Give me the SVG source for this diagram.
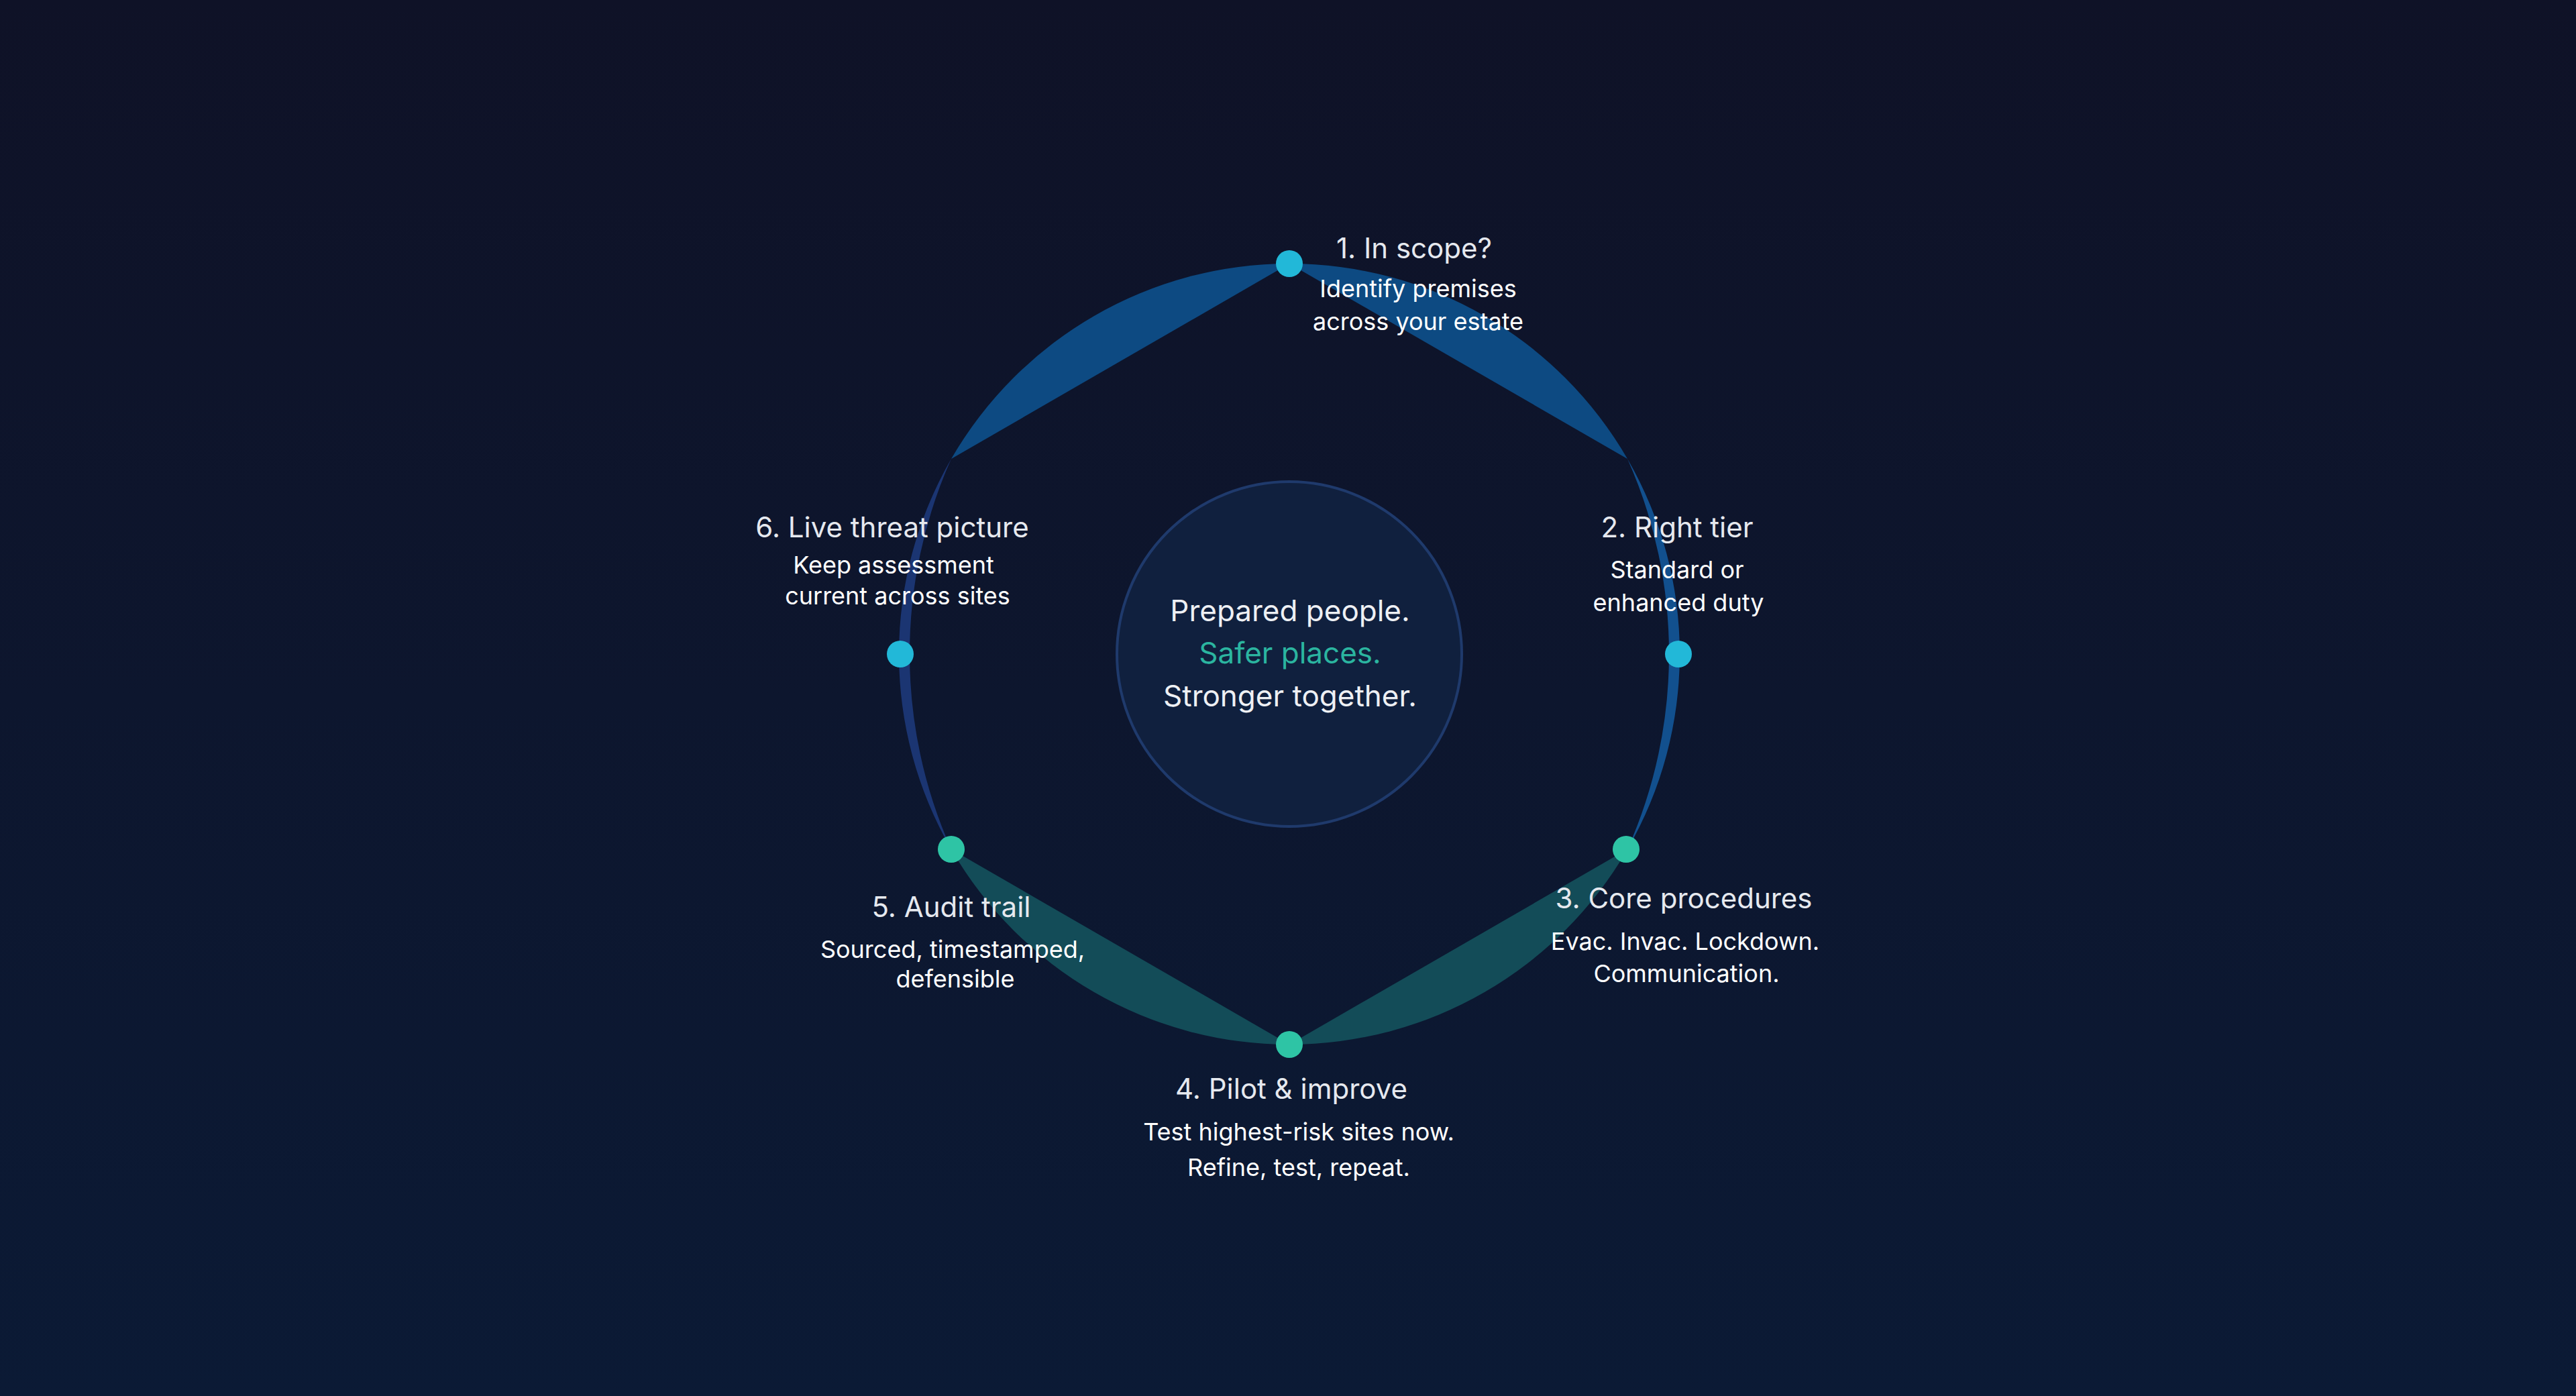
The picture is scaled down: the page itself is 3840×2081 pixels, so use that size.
<svg xmlns="http://www.w3.org/2000/svg" width="3840" height="2081" viewBox="0 0 3840 2081">
<defs>
<linearGradient id="bg" x1="0" y1="0" x2="0" y2="1"><stop offset="0" stop-color="#0f1227"/><stop offset="1" stop-color="#0b1a35"/></linearGradient>
<style>
.t{font-family:Inter,"Liberation Sans",sans-serif;font-size:42px;fill:#e6e9ef;text-anchor:middle}
.s{font-family:Inter,"Liberation Sans",sans-serif;font-size:36px;fill:#ffffff;text-anchor:middle}
.c{font-family:Inter,"Liberation Sans",sans-serif;font-size:44px;fill:#eef0f4;text-anchor:middle}
.cy{fill:#22b8d8}.tl{fill:#2ec4a5}
</style>
</defs>
<rect width="3840" height="2081" fill="url(#bg)"/>
<g id="connectors">
<path d="M1922,393 A582,582 0 0 0 1418,684 Z" fill="#0d4a82"/>
<path d="M1922,393 A582,582 0 0 1 2426,684 Z" fill="#0d4a82"/>
<path d="M2426,684 A582,582 0 0 1 2426,1266 A714,714 0 0 0 2426,684 Z" fill="#12508e"/>
<path d="M1418,684 A582,582 0 0 0 1418,1266 A714,714 0 0 1 1418,684 Z" fill="#1b3572"/>
<path d="M2426,1266 A582,582 0 0 1 1922,1557 Z" fill="#134c58"/>
<path d="M1922,1557 A582,582 0 0 1 1418,1266 Z" fill="#134c58"/>
</g>
<g id="center">
<circle cx="1922" cy="975" r="257" fill="#10203e" stroke="#1f3a6c" stroke-width="4"/>
<text class="c" x="1923" y="926">Prepared people.</text>
<text class="c" x="1923" y="989" style="fill:#2bb5a0">Safer places.</text>
<text class="c" x="1923" y="1053">Stronger together.</text>
</g>
<g id="n1"><circle class="cy" cx="1922" cy="393" r="20"/>
<text class="t" x="2108" y="385">1. In scope?</text>
<text class="s" x="2114" y="443">Identify premises</text><text class="s" x="2114" y="492">across your estate</text></g>
<g id="n2"><circle class="cy" cx="2502" cy="975" r="20"/>
<text class="t" x="2500" y="801">2. Right tier</text>
<text class="s" x="2500" y="862">Standard or</text><text class="s" x="2502" y="911">enhanced duty</text></g>
<g id="n3"><circle class="tl" cx="2424" cy="1266" r="20"/>
<text class="t" x="2510" y="1354">3. Core procedures</text>
<text class="s" x="2512" y="1416">Evac. Invac. Lockdown.</text><text class="s" x="2514" y="1464">Communication.</text></g>
<g id="n4"><circle class="tl" cx="1922" cy="1557" r="20"/>
<text class="t" x="1925" y="1638">4. Pilot &amp; improve</text>
<text class="s" x="1936" y="1700">Test highest-risk sites now.</text><text class="s" x="1936" y="1753">Refine, test, repeat.</text></g>
<g id="n5"><circle class="tl" cx="1418" cy="1266" r="20"/>
<text class="t" x="1418" y="1367">5. Audit trail</text>
<text class="s" x="1420" y="1428">Sourced, timestamped,</text><text class="s" x="1424" y="1472">defensible</text></g>
<g id="n6"><circle class="cy" cx="1342" cy="975" r="20"/>
<text class="t" x="1330" y="801">6. Live threat picture</text>
<text class="s" x="1332" y="855">Keep assessment</text><text class="s" x="1338" y="901">current across sites</text></g>
</svg>
